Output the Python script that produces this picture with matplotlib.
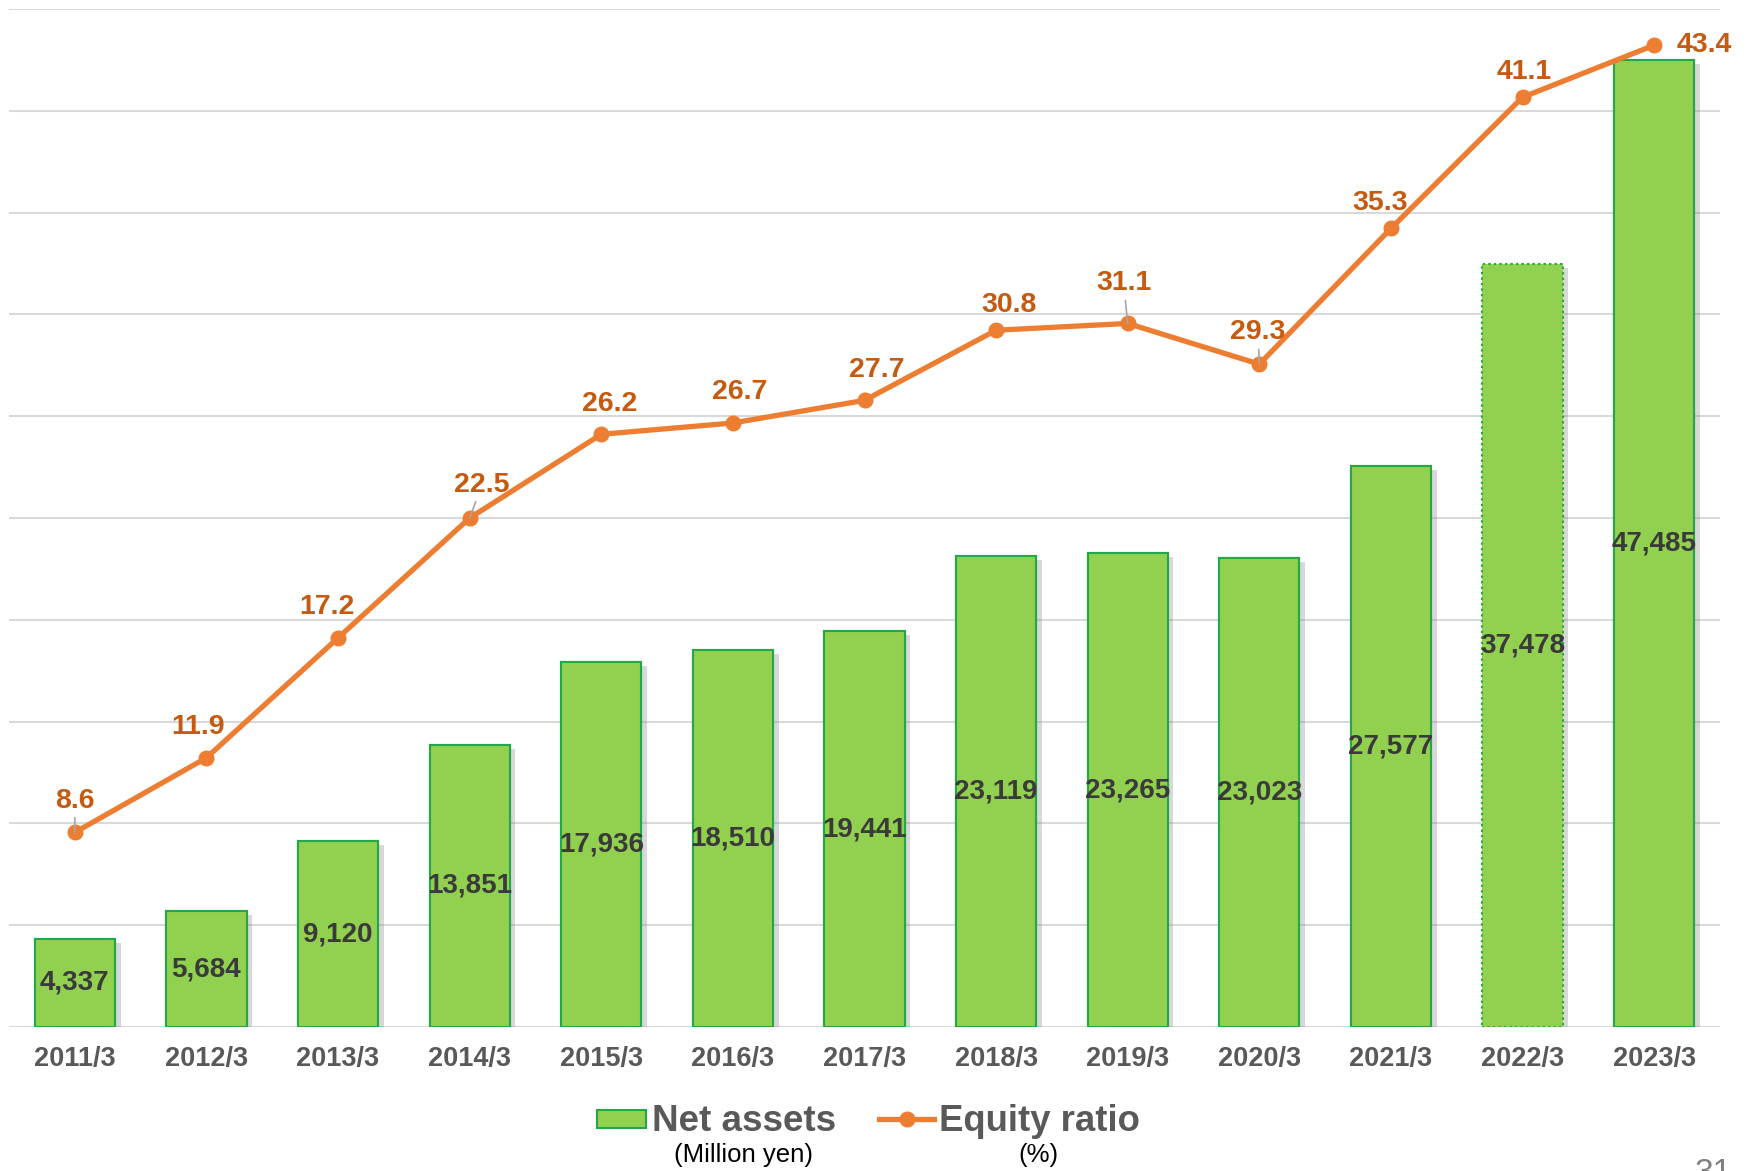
import matplotlib
matplotlib.use("Agg")
import matplotlib.pyplot as plt
from matplotlib.patches import Rectangle
from matplotlib.lines import Line2D
import matplotlib.patheffects as pe
import numpy as np

plt.rcParams['font.family'] = ['Liberation Sans', 'DejaVu Sans']

# ---- data ----
periods = ["2011/3", "2012/3", "2013/3", "2014/3", "2015/3", "2016/3", "2017/3",
           "2018/3", "2019/3", "2020/3", "2021/3", "2022/3", "2023/3"]
net_assets = [4337, 5684, 9120, 13851, 17936, 18510, 19441,
              23119, 23265, 23023, 27577, 37478, 47485]
equity_ratio = [8.6, 11.9, 17.2, 22.5, 26.2, 26.7, 27.7,
                30.8, 31.1, 29.3, 35.3, 41.1, 43.4]

# label offsets (points) for the ratio labels, and which get leader lines
ratio_label_offsets = [(0, 23), (-6, 22), (-8, 22), (9, 24), (6, 22), (5, 22), (9, 22),
                       (9, 18), (-3, 29), (-1, 23), (-8, 18), (1, 18), (36, 0)]
leader_idx = {0, 3, 8, 9}

W, H = 1754, 1171
fig = plt.figure(figsize=(W / 100, H / 100), dpi=100)
ax = fig.add_axes([9 / W, 1 - 1027 / H, (1720 - 9) / W, (1027 - 9) / H])
ax2 = ax.twinx()

x = np.arange(len(periods))
bar_fill = "#92D050"
bar_edge = "#22A846"
bars = ax.bar(x, net_assets, width=0.61, color=bar_fill, edgecolor=bar_edge,
              linewidth=1.5, zorder=3)
bars[11].set_linestyle(":")
for b in bars:
    b.set_path_effects([pe.withSimplePatchShadow(offset=(4, -3), shadow_rgbFace="#808080",
                                                  alpha=0.3), pe.Normal()])

for xi, v in zip(x, net_assets):
    ax.text(xi, v / 2, f"{v:,}", ha="center", va="center", fontsize=20,
            fontweight="bold", color="#3A3A3A", zorder=5)

ax.set_xlim(-0.5, len(periods) - 0.5)
ax.set_ylim(0, 50000)
ax.set_yticks(np.arange(0, 50001, 5000))
ax.yaxis.grid(True, color="#D9D9D9", linewidth=1.5, zorder=0)
ax.set_axisbelow(True)
ax.set_yticklabels([])
ax.tick_params(axis="y", length=0)
ax.set_xticks(x)
ax.set_xticklabels(periods, fontsize=19.5, fontweight="bold", color="#595959")
ax.tick_params(axis="x", length=0, pad=14)
for s in ax.spines.values():
    s.set_visible(False)

line_color = "#ED7D31"
label_color = "#C55A11"
ax2.plot(x, equity_ratio, color=line_color, linewidth=3.8, marker="o",
         markersize=10.5, zorder=4)
ax2.set_ylim(0, 45)
ax2.set_yticks([])
for s in ax2.spines.values():
    s.set_visible(False)

for i, (xi, v) in enumerate(zip(x, equity_ratio)):
    dx, dy = ratio_label_offsets[i]
    kw = {}
    if i in leader_idx:
        kw["arrowprops"] = dict(arrowstyle="-", color="#A6A6A6", lw=1.2,
                                shrinkA=1, shrinkB=0)
    ax2.annotate(f"{v}", xy=(xi, v), xytext=(dx, dy), textcoords="offset points",
                 ha="center", va="center", fontsize=20.5, fontweight="bold",
                 color=label_color, zorder=6, **kw)

# ---- legend ----
def fx(px):
    return px / W


def fy(py):
    return 1 - py / H


fig.add_artist(Rectangle((fx(597), fy(1128)), (646 - 597) / W, (1128 - 1110) / H,
                         facecolor=bar_fill, edgecolor=bar_edge, linewidth=1.5,
                         transform=fig.transFigure))
fig.text(fx(652), fy(1131), "Net assets", ha="left", va="baseline", fontsize=26.5,
         fontweight="bold", color="#595959")
fig.add_artist(Line2D([fx(879), fx(934)], [fy(1119), fy(1119)], color=line_color,
                      linewidth=3.8, transform=fig.transFigure))
fig.add_artist(Line2D([fx(907)], [fy(1119)], color=line_color, marker="o",
                      markersize=10.5, transform=fig.transFigure))
fig.text(fx(939), fy(1131), "Equity ratio", ha="left", va="baseline", fontsize=26.3,
         fontweight="bold", color="#595959")
fig.text(fx(744), fy(1162), "(Million yen)", ha="center", va="baseline",
         fontsize=18.5, color="#000000")
fig.text(fx(1038), fy(1162), "(%)", ha="center", va="baseline",
         fontsize=18.5, color="#000000")

# page number
fig.text(fx(1713), fy(1158), "31", ha="center", va="top", fontsize=24, color="#808080")

fig.savefig("out.png", dpi=100)
